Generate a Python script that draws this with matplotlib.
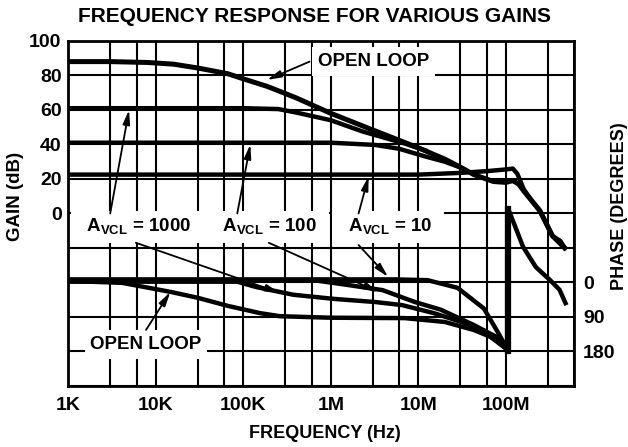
import matplotlib.pyplot as plt
from matplotlib.ticker import NullFormatter

plt.rcParams["font.family"] = ["Liberation Sans", "DejaVu Sans"]
plt.rcParams["font.weight"] = "bold"
plt.rcParams["mathtext.fontset"] = "custom"
plt.rcParams["mathtext.rm"] = "Liberation Sans:bold"
plt.rcParams["mathtext.bf"] = "Liberation Sans:bold"

# gain curves (Hz, dB)
ol_gain_freq = [1e3, 3e3, 8e3, 1.6e4, 3e4, 6.6e4, 1e5, 1.9e5, 4e5, 1e6, 2.5e6, 5e6,
                1e7, 2e7, 3.1e7, 4.3e7, 7.2e7, 1e8, 1.2e8, 1.4e8, 1.6e8, 2e8,
                2.45e8, 3.4e8, 4.7e8]
ol_gain_db = [88, 88, 87.5, 86.5, 84.3, 81, 78, 73.5, 67, 58, 50, 44,
              38, 31.5, 26.5, 22.5, 18.5, 18, 19, 17, 13, 7,
              1.5, -13, -20]

a1000_gain_freq = [1e3, 1e5, 2.5e5, 4e5, 1e6, 2.3e6, 4e6, 7e6, 1.2e7]
a1000_gain_db = [61, 61, 60.5, 58.5, 54, 47.5, 44, 40.5, 36.5]

a100_gain_freq = [1e3, 1e6, 3.2e6, 6e6, 1.2e7, 2e7, 3.1e7]
a100_gain_db = [41, 41, 39.7, 37.5, 33, 30, 26.4]

a10_gain_freq = [1e3, 1e7, 3e7, 6e7, 1e8, 1.2e8, 1.35e8, 1.6e8, 2e8, 2.45e8,
                 3.4e8, 4.2e8, 4.7e8]
a10_gain_db = [22.5, 22.5, 23.5, 24.5, 25.5, 26, 23, 14, 7, 1.5,
               -13, -16, -20]

# phase curves (Hz, degrees)
ol_phase_freq = [1e3, 4.1e3, 1.5e4, 3e4, 6.6e4, 1.55e5, 2.6e5, 1e6, 7e6, 2e7,
                 4.3e7, 7.2e7, 1.05e8]
ol_phase_deg = [-4, 1, 25, 40, 61, 80, 88, 92, 93, 103, 124, 145, 176]

a1000_phase_freq = [1e3, 8.5e4, 1.4e5, 3.7e5, 1.1e6, 3.2e6, 6.5e6, 1.5e7, 3.1e7,
                    5.6e7, 1.05e8]
a1000_phase_deg = [-2, -2, 12, 32, 43, 51, 59, 80, 103, 129, 176]

a100_phase_freq = [1e3, 6.8e5, 1.5e6, 3.9e6, 9.1e6, 1.8e7, 4.3e7, 7.8e7, 1.05e8]
a100_phase_deg = [-5, -5, 6, 20, 51, 71, 111, 142, 176]

a10_phase_freq = [1e3, 5.4e6, 1.27e7, 2.8e7, 5.6e7, 8e7, 1.05e8]
a10_phase_deg = [-8, -8, -6, 14, 68, 128, 176]

# phase wraps from +180 to -180 just above 100MHz
jump_freq = [1.07e8, 1.07e8]
jump_deg = [178, -192]
wrap_freq = [1.07e8, 1.28e8, 1.57e8, 2.2e8, 3.2e8, 4.1e8, 4.8e8]
wrap_deg = [-190, -145, -93, -40, -6, 19, 54]

decades = [1e3, 1e4, 1e5, 1e6, 1e7, 1e8]
decade_labels = ["1K", "10K", "100K", "1M", "10M", "100M"]
gain_ticks = list(range(-100, 101, 20))
phase_ticks = [0, 90, 180]

fig = plt.figure(figsize=(6.28, 4.47), dpi=100)
ax = fig.add_axes([0.109, 0.1365, 0.805, 0.772])
ax.set_xscale("log")
ax.set_xlim(1e3, 4.93e8)
ax.set_ylim(-100, 100)

minor = [d * m for d in decades for m in (3, 6)]
ax.set_xticks(decades)
ax.set_xticklabels(decade_labels)
ax.set_xticks(minor, minor=True)
ax.xaxis.set_minor_formatter(NullFormatter())
ax.set_yticks(gain_ticks)
ax.set_yticklabels([str(t) if t >= 0 else "" for t in gain_ticks])
ax.tick_params(which="both", length=0, labelsize=14)
ax.tick_params(axis="x", pad=8)
ax.tick_params(axis="y", pad=5)
ax.grid(True, which="both", color="black", lw=1.5)
for sp in ax.spines.values():
    sp.set_linewidth(2.0)

lw = 3.2
ax.plot(ol_gain_freq, ol_gain_db, color="black", lw=3.6)
ax.plot(a1000_gain_freq, a1000_gain_db, color="black", lw=lw)
ax.plot(a100_gain_freq, a100_gain_db, color="black", lw=lw)
ax.plot(a10_gain_freq, a10_gain_db, color="black", lw=lw)

# phase on its own (inverted) scale: 0 deg sits on the -40 dB row
ax2 = ax.twinx()
ax2.set_ylim(270, -630)
ax2.set_yticks(phase_ticks)
ax2.set_yticklabels([str(t) for t in phase_ticks])
ax2.tick_params(length=0, labelsize=14, pad=6.5)
for sp in ax2.spines.values():
    sp.set_visible(False)

ax2.plot(ol_phase_freq, ol_phase_deg, color="black", lw=lw)
ax2.plot(a1000_phase_freq, a1000_phase_deg, color="black", lw=lw)
ax2.plot(a100_phase_freq, a100_phase_deg, color="black", lw=lw)
ax2.plot(a10_phase_freq, a10_phase_deg, color="black", lw=lw)
ax2.plot(jump_freq, jump_deg, color="black", lw=4.5)
ax2.plot(wrap_freq, wrap_deg, color="black", lw=lw)

# labels with white boxes over the grid (spaces widen the box)
box = dict(facecolor="white", edgecolor="none", pad=4)
txt = dict(fontsize=13.5, fontweight="bold", ha="center", va="center", bbox=box)
ax.text(3.07e6, 88, "OPEN LOOP", **txt)
ax.text(7.7e3, -76, "OPEN LOOP", **txt)
ax.text(6.5e3, -8, r"  $\mathrm{A}_{\mathrm{VCL}}$ = 1000   ", **txt)
ax.text(1.9e5, -8, r"  $\mathrm{A}_{\mathrm{VCL}}$ = 100  ", **txt)
ax.text(4.5e6, -8, r"  $\mathrm{A}_{\mathrm{VCL}}$ = 10  ", **txt)

arrow = dict(arrowstyle="-|>,head_length=0.6,head_width=0.15", color="black",
             lw=1.3, mutation_scale=14, shrinkA=0, shrinkB=0)
for tail, tip in [
    ((5.7e5, 88), (1.86e5, 77.4)),
    ((7.7e3, -67.5), (1.46e4, -45.5)),
    ((3.0e3, 0), (4.93e3, 60)),
    ((8.5e4, 0), (1.2e5, 40)),
    ((2.07e6, 0), (2.7e6, 21.5)),
    ((5.9e3, -17), (2.6e5, -46)),
    ((1.95e5, -17), (3.5e6, -45.5)),
    ((2.07e6, -18.3), (4.5e6, -36.8)),
]:
    ax.annotate("", xy=tip, xytext=tail, arrowprops=arrow)

fig.text(0.5, 0.964, "FREQUENCY RESPONSE FOR VARIOUS GAINS", fontsize=15,
         fontweight="bold", ha="center", va="center")
fig.text(15 / 628, 1 - 196 / 447, "GAIN (dB)", rotation=90, fontsize=13.5,
         fontweight="bold", ha="center", va="center")
fig.text(620 / 628, 1 - 206 / 447, "PHASE (DEGREES)", rotation=90, fontsize=13,
         fontweight="bold", ha="center", va="center")
fig.text(325 / 628, 1 - 434 / 447, "FREQUENCY (Hz)", fontsize=13,
         fontweight="bold", ha="center", va="center")

fig.savefig("out.png", dpi=100)
